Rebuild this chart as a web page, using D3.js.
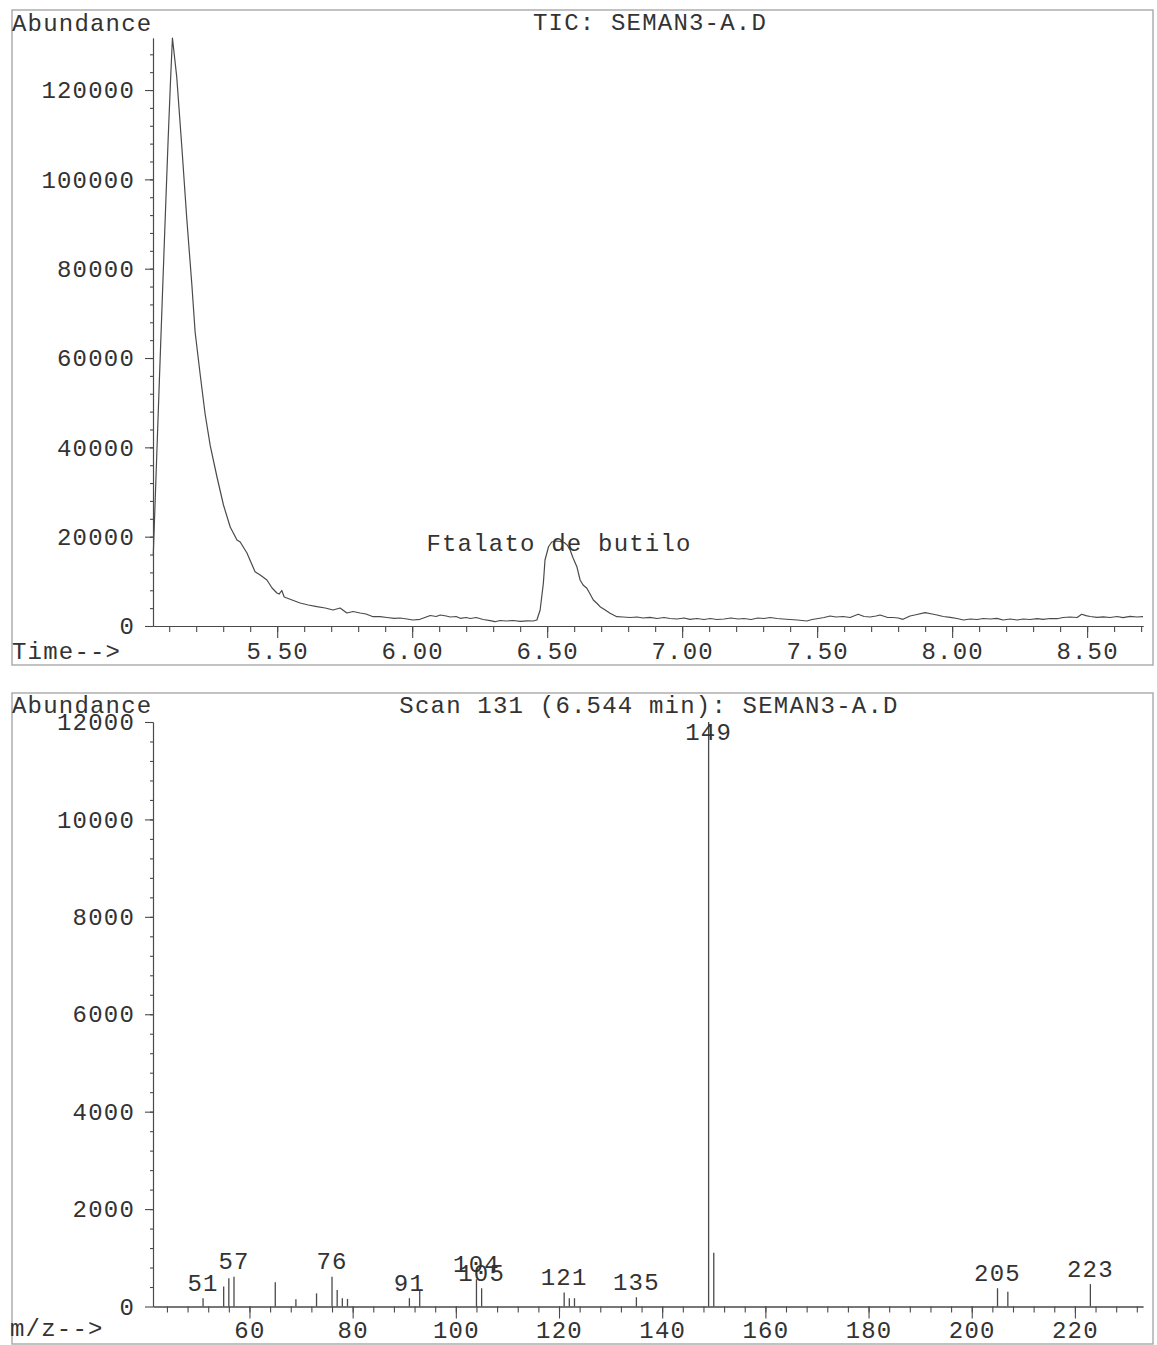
<!DOCTYPE html>
<html>
<head>
<meta charset="utf-8">
<script src="https://cdn.jsdelivr.net/npm/d3@7"></script>
<style>
  html, body { margin: 0; padding: 0; background: #fff; }
  svg text {
    font-family: "Liberation Mono", "Courier New", monospace;
    font-size: 24px;
    fill: #333;
    letter-spacing: 1.2px;
  }
</style>
</head>
<body>
<svg id="chart" width="1157" height="1345"></svg>
<script>
// ---- Total ion chromatogram (time in minutes, abundance) ----
const ticTime = [
  5.041, 5.052, 5.063, 5.074, 5.085, 5.096, 5.105, 5.112, 5.128, 5.147,
  5.165, 5.184, 5.196, 5.215, 5.233, 5.252, 5.277, 5.301, 5.326, 5.351,
  5.363, 5.388, 5.404, 5.418, 5.437, 5.462, 5.481, 5.499, 5.507, 5.517,
  5.526, 5.536, 5.555, 5.585, 5.615, 5.647, 5.678, 5.707, 5.733, 5.758,
  5.781, 5.807, 5.829, 5.855, 5.881, 5.907, 5.933, 5.955, 5.981, 6.003,
  6.029, 6.052, 6.067, 6.089, 6.104, 6.126, 6.141, 6.163, 6.178, 6.200,
  6.215, 6.237, 6.263, 6.289, 6.307, 6.326, 6.348, 6.374, 6.400, 6.426,
  6.448, 6.462, 6.474, 6.486, 6.492, 6.505, 6.517, 6.533, 6.548, 6.563,
  6.574, 6.585, 6.596, 6.610, 6.622, 6.633, 6.647, 6.659, 6.671, 6.685,
  6.696, 6.715, 6.733, 6.758, 6.781, 6.807, 6.833, 6.855, 6.881, 6.907,
  6.933, 6.955, 6.981, 7.007, 7.029, 7.055, 7.081, 7.104, 7.129, 7.155,
  7.181, 7.207, 7.229, 7.255, 7.281, 7.303, 7.326, 7.352, 7.374, 7.400,
  7.426, 7.462, 7.481, 7.504, 7.526, 7.548, 7.570, 7.596, 7.622, 7.652,
  7.674, 7.696, 7.718, 7.733, 7.759, 7.781, 7.800, 7.818, 7.844, 7.870,
  7.900, 7.926, 7.944, 7.967, 7.993, 8.018, 8.042, 8.067, 8.093, 8.115,
  8.141, 8.166, 8.189, 8.215, 8.241, 8.263, 8.289, 8.315, 8.337, 8.363,
  8.389, 8.411, 8.437, 8.463, 8.480, 8.496, 8.511, 8.537, 8.559, 8.585,
  8.611, 8.633, 8.659, 8.685, 8.707
];
const ticAbundance = [
  15900, 34930, 53960, 72540, 90900, 108800, 122250, 131650, 122880, 107070,
  91290, 76350, 65830, 56200, 47470, 40370, 33360, 27090, 22170, 19260,
  18810, 16340, 14100, 12160, 11420, 10300, 8510, 7390, 7160, 7950,
  6490, 6270, 5820, 5150, 4700, 4320, 4030, 3580, 4030, 2910,
  3250, 2910, 2690, 2080, 2080, 1900, 1720, 1790, 1570, 1340,
  1500, 2020, 2350, 2130, 2460, 2240, 2020, 2130, 1720, 1900,
  1680, 1900, 1460, 1190, 960, 1230, 1120, 1230, 1050, 1160,
  1120, 1340, 3580, 9630, 14780, 17750, 18800, 19030, 18920, 18700,
  18140, 17020, 15230, 13280, 10300, 9180, 8440, 7160, 5820, 5040,
  4320, 3580, 2840, 2080, 2020, 1900, 2020, 1790, 1950, 1680,
  1900, 1680, 1570, 1790, 1500, 1680, 1460, 1680, 1460, 1570,
  1790, 1570, 1680, 1460, 1790, 1680, 1900, 1680, 1570, 1460,
  1340, 1120, 1460, 1680, 1900, 2240, 2020, 2130, 1900, 2620,
  2130, 2020, 2240, 2460, 1950, 1900, 1790, 1500, 2240, 2570,
  2980, 2690, 2460, 2130, 1950, 1680, 1340, 1570, 1460, 1680,
  1570, 1720, 1340, 1570, 1340, 1570, 1460, 1630, 1500, 1680,
  1630, 1900, 2020, 1900, 2620, 2310, 2130, 1950, 2060, 1900,
  2130, 1860, 2170, 2020, 2080
];
const timeMajorTicks = [5.5, 6.0, 6.5, 7.0, 7.5, 8.0, 8.5];
const ticAbundanceTicks = [0, 20000, 40000, 60000, 80000, 100000, 120000];
const ticNote = { text: "Ftalato de butilo", time: 6.544 };

// ---- Mass spectrum of scan 131 (m/z, abundance) ----
const msMz = [51, 55, 56, 57, 65, 69, 73, 76, 77, 78, 79, 91, 93, 104, 105,
              121, 122, 123, 135, 149, 150, 205, 207, 223];
const msAbundance = [170, 410, 580, 612, 500, 150, 270, 612, 340, 170, 155, 170, 340, 560, 375,
                     285, 170, 170, 190, 12000, 1105, 375, 305, 460];
const msLabelled = [51, 57, 76, 91, 104, 105, 121, 135, 149, 205, 223];
const mzMajorTicks = [60, 80, 100, 120, 140, 160, 180, 200, 220];
const msAbundanceTicks = [0, 2000, 4000, 6000, 8000, 10000, 12000];

const svg = d3.select("#chart");
const ink = "#4a4a4a";
const frameInk = "#a8a8a8";

function frame(x, y, w, h) {
  svg.append("rect")
    .attr("x", x).attr("y", y).attr("width", w).attr("height", h)
    .attr("fill", "none").attr("stroke", frameInk).attr("stroke-width", 1.4);
}

function styleAxis(g) {
  g.selectAll("path.domain").attr("stroke", ink).attr("stroke-width", 1.1);
  g.selectAll(".tick line").attr("stroke", ink).attr("stroke-width", 1.1);
}

// ================= TIC panel =================
frame(12, 10, 1141, 655);
const ticBase = 626;
const ticMax = d3.max(ticAbundance);
const xT = d3.scaleLinear().domain([5.04, 8.707]).range([153, 1143]);
const yT = d3.scaleLinear().domain([0, ticMax]).range([ticBase, 38]);

svg.append("g").attr("transform", `translate(153,0)`)
  .call(d3.axisLeft(yT).tickValues(d3.range(4000, ticMax, 4000)).tickSize(3).tickSizeOuter(0).tickFormat(""))
  .call(styleAxis);
svg.append("g").attr("transform", `translate(153,0)`)
  .call(d3.axisLeft(yT).tickValues(ticAbundanceTicks).tickSize(8).tickPadding(10).tickSizeOuter(0).tickFormat(d3.format("d")))
  .call(styleAxis);

svg.append("g").attr("transform", `translate(0,${ticBase})`)
  .call(d3.axisBottom(xT).tickValues(d3.range(5.1, 8.71, 0.1)).tickSize(6).tickSizeOuter(0).tickFormat(""))
  .call(styleAxis);
svg.append("g").attr("transform", `translate(0,${ticBase})`)
  .call(d3.axisBottom(xT).tickValues(timeMajorTicks).tickSize(12).tickPadding(4).tickSizeOuter(0).tickFormat(d3.format(".2f")))
  .call(styleAxis);

const ticPoints = ticTime.map((t, i) => [t, ticAbundance[i]]);
svg.append("path")
  .datum(ticPoints)
  .attr("fill", "none")
  .attr("stroke", ink)
  .attr("stroke-width", 1.2)
  .attr("stroke-linejoin", "round")
  .attr("d", d3.line().x(d => xT(d[0])).y(d => yT(d[1])));

const noteIdx = d3.minIndex(ticTime, t => Math.abs(t - ticNote.time));
svg.append("text")
  .attr("x", xT(ticNote.time)).attr("y", yT(ticAbundance[noteIdx]) + 10)
  .attr("text-anchor", "middle").text(ticNote.text);

svg.append("text").attr("x", 12).attr("y", 31).text("Abundance");
svg.append("text").attr("x", 650).attr("y", 30).attr("text-anchor", "middle").text("TIC: SEMAN3-A.D");
svg.append("text").attr("x", 12).attr("y", 659).text("Time-->");

// ================= Mass spectrum panel =================
frame(12, 693, 1141, 651);
const msBase = 1306.5;
const xM = d3.scaleLinear().domain([41.3, 233.2]).range([153, 1143]);
const yM = d3.scaleLinear().domain([0, 12000]).range([msBase, 722]);

svg.append("g").attr("transform", `translate(153,0)`)
  .call(d3.axisLeft(yM).tickValues(d3.range(400, 12000, 400)).tickSize(3).tickSizeOuter(0).tickFormat(""))
  .call(styleAxis);
svg.append("g").attr("transform", `translate(153,0)`)
  .call(d3.axisLeft(yM).tickValues(msAbundanceTicks).tickSize(8).tickPadding(10).tickSizeOuter(0).tickFormat(d3.format("d")))
  .call(styleAxis);

svg.append("g").attr("transform", `translate(0,${msBase})`)
  .call(d3.axisBottom(xM).tickValues(d3.range(44, 233, 4)).tickSize(6).tickSizeOuter(0).tickFormat(""))
  .call(styleAxis);
svg.append("g").attr("transform", `translate(0,${msBase})`)
  .call(d3.axisBottom(xM).tickValues(mzMajorTicks).tickSize(12).tickPadding(2).tickSizeOuter(0).tickFormat(d3.format("d")))
  .call(styleAxis);

const peaks = msMz.map((m, i) => ({ mz: m, ab: msAbundance[i] }));
svg.append("g").selectAll("line").data(peaks).join("line")
  .attr("x1", d => xM(d.mz)).attr("x2", d => xM(d.mz))
  .attr("y1", yM(0)).attr("y2", d => yM(d.ab))
  .attr("stroke", ink).attr("stroke-width", 1.3);

// peak labels sit just above each labelled line, kept below the panel title
svg.append("g").selectAll("text").data(peaks.filter(d => msLabelled.includes(d.mz))).join("text")
  .attr("x", d => xM(d.mz))
  .attr("y", d => Math.max(yM(d.ab) - 7.5, yM(12000) + 18))
  .attr("text-anchor", "middle")
  .text(d => d.mz);

svg.append("text").attr("x", 12).attr("y", 713).text("Abundance");
svg.append("text").attr("x", 649).attr("y", 713).attr("text-anchor", "middle").text("Scan 131 (6.544 min): SEMAN3-A.D");
svg.append("text").attr("x", 10).attr("y", 1336).text("m/z-->");
</script>
</body>
</html>
